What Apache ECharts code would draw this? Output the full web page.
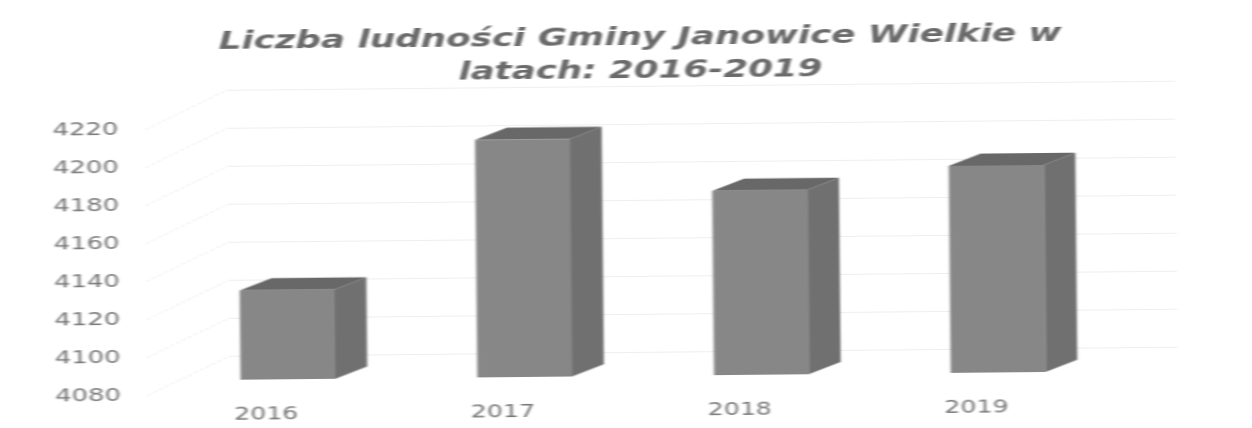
<!DOCTYPE html>
<html>
<head>
<meta charset="utf-8">
<style>
  html, body { margin: 0; padding: 0; background: #fff; overflow: hidden; }
  /* the source is a stretched, slightly crooked scan, so the whole chart gets stretched and tilted */
  #chart {
    width: 894px;
    height: 428px;
    transform-origin: 0 0;
    transform: translate(0, 16px) rotate(-0.55deg) scaleX(1.4);
    filter: blur(0.6px);
  }
</style>
<script src="https://cdn.jsdelivr.net/npm/echarts@6/dist/echarts.min.js"></script>
</head>
<body>
<div id="chart"></div>
<script>
const years = ['2016', '2017', '2018', '2019']
const population = [4127, 4205, 4177, 4189]
const yTicks = [4080, 4100, 4120, 4140, 4160, 4180, 4200, 4220]
const titleText = 'Liczba ludności Gminy Janowice Wielkie w\nlatach: 2016-2019'

const SX = 1.4 // horizontal stretch from the css transform
const yMin = 4080
const yMax = 4220
const plotLeft = 144
const plotTop = 115
const plotHeight = 266
// floor of the fake 3d box: front edge to back wall
const wallDx = 83 / SX
const wallDy = 39
// bars stand a bit behind the front edge
const barDx = 22 / SX
const barDy = 15
const depthDx = 32 / SX
const depthDy = 12

const chart = echarts.init(document.getElementById('chart'))

const renderBar = (params, api) => {
  const top = api.coord([api.value(0), api.value(1)])
  const base = api.coord([api.value(0), yMin])
  const w = api.size([1, 0])[0] * 0.4
  const l = top[0] - w / 2 + barDx
  const r = l + w
  const t = top[1] - barDy
  const b = base[1] - barDy
  return {
    type: 'group',
    children: [
      {
        type: 'polygon',
        shape: { points: [[l, t], [l + depthDx, t - depthDy], [r + depthDx, t - depthDy], [r, t]] },
        style: { fill: '#686868' }
      },
      {
        type: 'polygon',
        shape: { points: [[r, t], [r + depthDx, t - depthDy], [r + depthDx, b - depthDy], [r, b]] },
        style: { fill: '#707070' }
      },
      {
        type: 'rect',
        shape: { x: l, y: t, width: w, height: b - t },
        style: { fill: '#878787' }
      }
    ]
  }
}

const renderWallLine = (params, api) => {
  const p = api.coord([0, api.value(0)])
  const x = params.coordSys.x
  return {
    type: 'line',
    shape: { x1: x, y1: p[1], x2: x + wallDx, y2: p[1] - wallDy },
    style: { stroke: '#eeeeee', lineWidth: 1, lineDash: [3, 2] }
  }
}

chart.setOption({
  animation: false,
  backgroundColor: '#fff',
  title: {
    text: titleText,
    left: 452,
    top: 7,
    textAlign: 'center',
    textStyle: {
      fontFamily: 'DejaVu Sans',
      fontStyle: 'italic',
      fontWeight: 'bold',
      fontSize: 25.5,
      lineHeight: 33,
      color: '#6a6a6a'
    }
  },
  grid: [
    { left: plotLeft / SX, width: 947 / SX, top: plotTop, height: plotHeight },
    { left: plotLeft / SX + wallDx, width: 947 / SX, top: plotTop - wallDy, height: plotHeight }
  ],
  xAxis: [
    {
      gridIndex: 0,
      type: 'category',
      data: years,
      axisLine: { show: false },
      axisTick: { show: false },
      axisLabel: { fontFamily: 'DejaVu Sans', fontSize: 18, color: '#777777', margin: 11 }
    },
    { gridIndex: 1, type: 'category', data: years, show: false }
  ],
  yAxis: [
    {
      gridIndex: 0,
      type: 'value',
      min: yMin,
      max: yMax,
      interval: 20,
      splitLine: { show: false },
      axisLine: { show: false },
      axisTick: { show: false },
      axisLabel: {
        fontFamily: 'DejaVu Sans',
        fontSize: 18.5,
        color: '#777777',
        margin: 19,
        formatter: (v) => String(v)
      }
    },
    {
      gridIndex: 1,
      type: 'value',
      min: yMin,
      max: yMax,
      interval: 20,
      axisLine: { show: false },
      axisTick: { show: false },
      axisLabel: { show: false },
      splitLine: { lineStyle: { color: '#eeeeee', width: 1 } }
    }
  ],
  series: [
    {
      type: 'custom',
      xAxisIndex: 0,
      yAxisIndex: 0,
      data: yTicks.map((v) => [v]),
      encode: { y: 0 },
      renderItem: renderWallLine,
      silent: true,
      z: 1
    },
    {
      type: 'custom',
      xAxisIndex: 0,
      yAxisIndex: 0,
      data: population.map((v, i) => [i, v]),
      encode: { x: 0, y: 1 },
      renderItem: renderBar,
      z: 2
    }
  ]
})
</script>
</body>
</html>
